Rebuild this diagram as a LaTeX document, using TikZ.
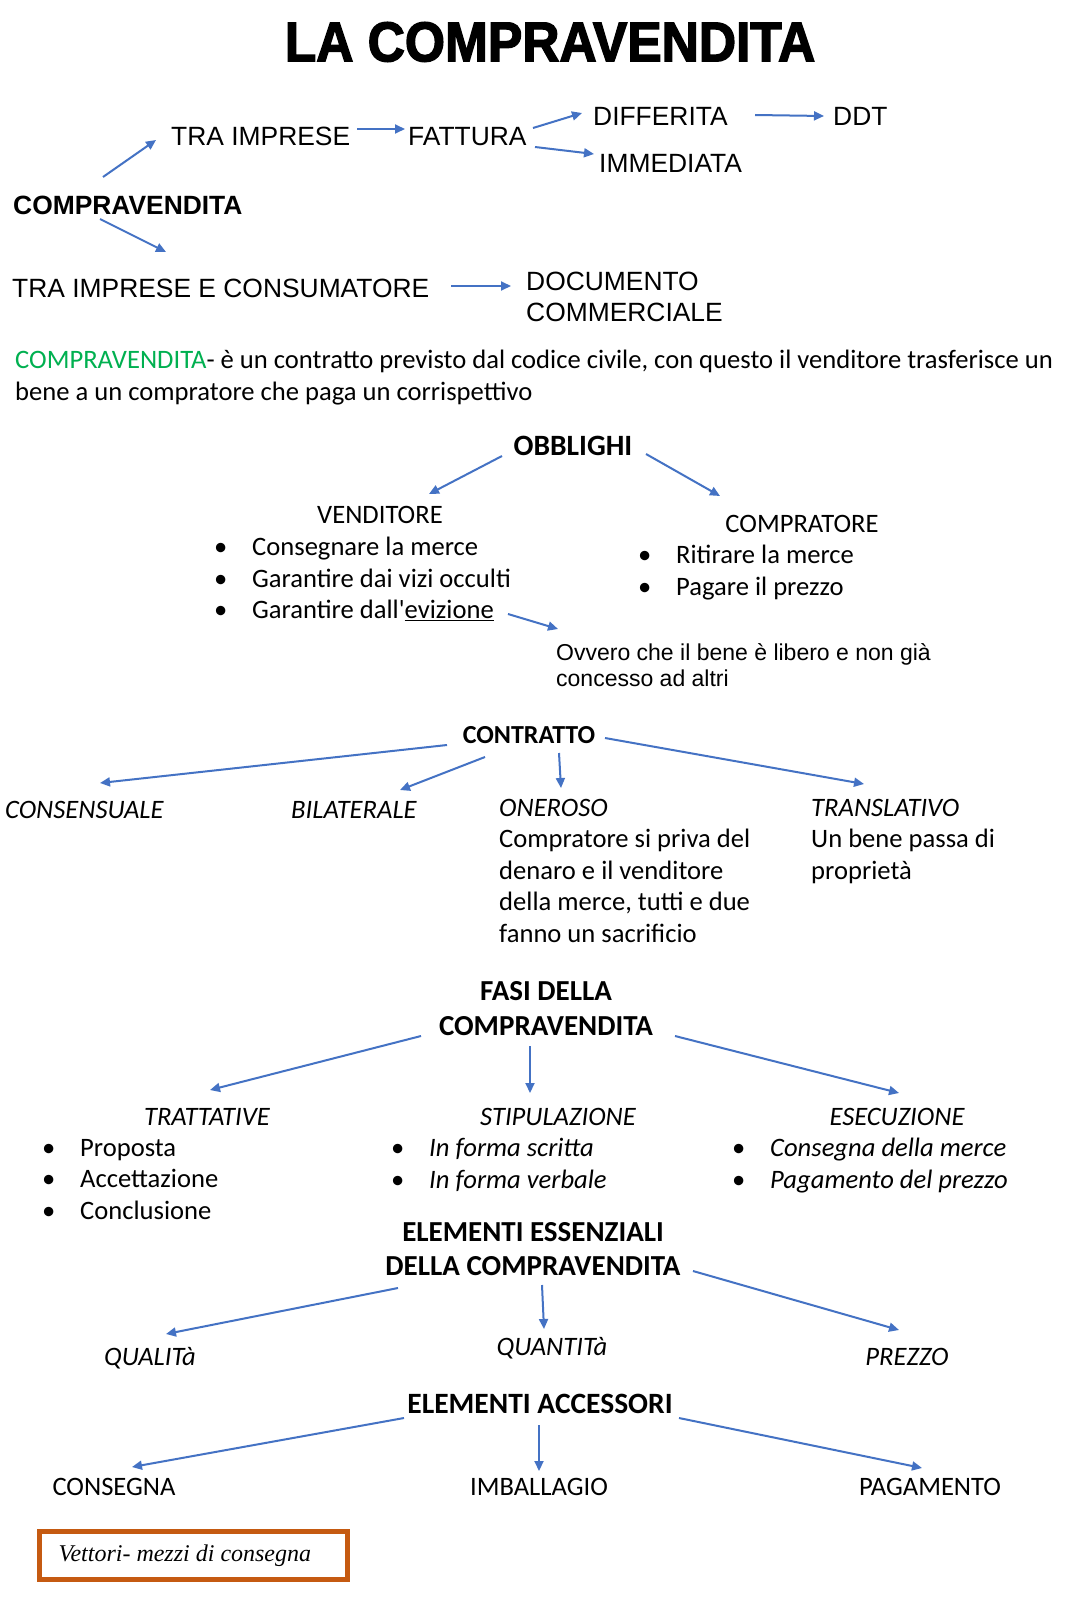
\documentclass[tikz,border=0pt]{standalone}
\usepackage{fontspec}
\setmainfont{Carlito}
\newfontfamily\arialf{Liberation Sans}
\newfontfamily\titlef[FakeStretch=0.92,FakeBold=2.5]{Liberation Sans Bold}
\newfontfamily\vettf{Liberation Serif}
\usetikzlibrary{arrows.meta,positioning}
\definecolor{arrblue}{HTML}{4472C4}
\definecolor{cvgreen}{HTML}{00B050}
\definecolor{boxorange}{HTML}{C55A11}
\newcommand{\itm}[1]{\makebox[38pt][l]{\textbullet}#1}

\begin{document}
\begin{tikzpicture}[x=1pt, y=-1pt,
                    every node/.style={inner sep=0pt},
                    arr/.style={arrblue, line width=2pt, -{Triangle[length=10pt,width=9pt]}},
                    lbl/.style={font=\arialf\fontsize{26.4}{31}\selectfont},
                    txt/.style={font=\fontsize{26.6}{31.5}\selectfont, align=left},
                    hdr/.style={font=\bfseries\fontsize{29.5}{34.5}\selectfont, align=center},
                    itl/.style={font=\itshape\fontsize{26.6}{31.5}\selectfont}]
    %\draw[help lines] (0,0) grid[step=100] (1080,1600);
   \fill[white] (0,0) rectangle (1080,1600);
   \useasboundingbox (0,0) rectangle (1080,1600);

   \node (title) [font=\titlef\fontsize{56}{60}\selectfont] at (550,42) {LA COMPRAVENDITA};

   % tipi di compravendita
   \node (cv) [lbl, anchor=west, font=\arialf\bfseries\fontsize{26.4}{31}\selectfont] at (13,205.5) {COMPRAVENDITA};
   \node (ti) [lbl, anchor=west] at (171,136.5) {TRA IMPRESE};
   \node (fatt) [lbl, anchor=west] at (408,137) {FATTURA};
   \node (diff) [lbl, anchor=west] at (593,116) {DIFFERITA};
   \node (ddt) [lbl, anchor=west] at (833,116) {DDT};
   \node (imm) [lbl, anchor=west] at (599,163) {IMMEDIATA};
   \node (tiec) [lbl, anchor=west] at (12,288) {TRA IMPRESE E CONSUMATORE};
   \node (doc) [lbl, align=left, anchor=north west] at (526,271.5) {DOCUMENTO\\COMMERCIALE};

   \node (def) [txt, anchor=north west] at (15,350) {\textcolor{cvgreen}{COMPRAVENDITA}- è un contratto previsto dal codice civile, con questo il venditore trasferisce un\\bene a un compratore che paga un corrispettivo};

   % obblighi
   \node (obb) [hdr] at (573,446) {OBBLIGHI};
   \node (vend) [txt] at (380,515) {VENDITORE};
   \node (vendl) [txt, anchor=north west] at (214,537) {\itm{Consegnare la merce}\\\itm{Garantire dai vizi occulti}\\\itm{Garantire dall\textquotesingle\underline{evizione}}};
   \node (comp) [txt] at (802,523.5) {COMPRATORE};
   \node (compl) [txt, anchor=north west] at (638,545) {\itm{Ritirare la merce}\\\itm{Pagare il prezzo}};
   \node (ovv) [font=\arialf\fontsize{23}{26}\selectfont, align=left, anchor=north west] at (556,643) {Ovvero che il bene è libero e non già\\concesso ad altri};

   % contratto
   \node (contr) [hdr, font=\bfseries\fontsize{26}{31}\selectfont] at (529,735) {CONTRATTO};
   \node (cons) [itl, anchor=west] at (5,810) {CONSENSUALE};
   \node (bil) [itl, anchor=west] at (291,810) {BILATERALE};
   \node (oner) [txt, anchor=north west] at (499,799) {\textit{ONEROSO}\\Compratore si priva del\\denaro e il venditore\\della merce, tutti e due\\fanno un sacrificio};
   \node (transl) [txt, anchor=north west] at (811,799) {\textit{TRANSLATIVO}\\Un bene passa di\\proprietà};

   % fasi
   \node (fasi) [hdr, font=\bfseries\fontsize{29}{35}\selectfont] at (546,1009) {FASI DELLA\\COMPRAVENDITA};
   \node (tratt) [itl] at (207,1117) {TRATTATIVE};
   \node (trattl) [txt, anchor=north west] at (42,1139) {\itm{Proposta}\\\itm{Accettazione}\\\itm{Conclusione}};
   \node (stip) [itl] at (558,1117) {STIPULAZIONE};
   \node (stipl) [txt, anchor=north west] at (391,1138) {\itm{\textit{In forma scritta}}\\\itm{\textit{In forma verbale}}};
   \node (esec) [itl] at (897,1117) {ESECUZIONE};
   \node (esecl) [txt, anchor=north west] at (732,1138) {\itm{\textit{Consegna della merce}}\\\itm{\textit{Pagamento del prezzo}}};

   % elementi
   \node (ess) [hdr, font=\bfseries\fontsize{29}{34}\selectfont] at (533,1249.5) {ELEMENTI ESSENZIALI\\DELLA COMPRAVENDITA};
   \node (qual) [itl] at (150,1358) {QUALITà};
   \node (quant) [itl] at (552,1348) {QUANTITà};
   \node (prez) [itl] at (907,1357) {PREZZO};

   \node (acc) [hdr] at (540,1404) {ELEMENTI ACCESSORI};
   \node (cons2) [txt] at (114,1487) {CONSEGNA};
   \node (imb) [txt] at (539,1487) {IMBALLAGIO};
   \node (pag) [txt] at (930,1487) {PAGAMENTO};

   \node (vett) [draw=boxorange, line width=5pt, minimum width=308pt, minimum height=48pt,
                 font=\vettf\itshape\fontsize{24}{28}\selectfont] at (193.5,1555.5) {\makebox[270pt][l]{Vettori- mezzi di consegna}};

   % Define connections
   \path[arr]
   ([shift={(90,-28.5)}]cv.west) edge ([shift={(-15,3.5)}]ti.west)
   ([shift={(186,-7.5)}]ti.west) edge ([shift={(-3,-8)}]fatt.west)
   ([shift={(125,-9)}]fatt.west) edge ([shift={(-11,-3)}]diff.west)
   ([shift={(127,10)}]fatt.west) edge ([shift={(-5,-9)}]imm.west)
   ([shift={(162,-1)}]diff.west) edge ([shift={(-9,0)}]ddt.west)
   ([shift={(87,13.5)}]cv.west) edge ([shift={(154,-36)}]tiec.west)
   ([shift={(439,-2)}]tiec.west) edge ([shift={(-15,14.5)}]doc.north west)
   ([shift={(-71,10)}]obb.center) edge ([shift={(49,-21)}]vend.center)
   ([shift={(73,8)}]obb.center) edge ([shift={(-82,-27.5)}]comp.center)
   ([shift={(294,77)}]vendl.north west) edge ([shift={(2,-14)}]ovv.north west)
   ([shift={(-82,10)}]contr.center) edge ([shift={(95,-27)}]cons.west)
   ([shift={(-44,22)}]contr.center) edge ([shift={(109,-20)}]bil.west)
   ([shift={(30,18)}]contr.center) edge ([shift={(62,-11)}]oner.north west)
   ([shift={(76,3)}]contr.center) edge ([shift={(53,-15)}]transl.north west)
   ([shift={(-125,27)}]fasi.center) edge ([shift={(3,-27)}]tratt.center)
   ([shift={(-16,37)}]fasi.center) edge ([shift={(-28,-24)}]stip.center)
   ([shift={(129,27)}]fasi.center) edge ([shift={(2,-24)}]esec.center)
   ([shift={(-135,38.5)}]ess.center) edge ([shift={(16,-24)}]qual.center)
   ([shift={(9,35.5)}]ess.center) edge ([shift={(-8,-19)}]quant.center)
   ([shift={(160,21.5)}]ess.center) edge ([shift={(-8,-27)}]prez.center)
   ([shift={(-136,14)}]acc.center) edge ([shift={(18,-20)}]cons2.center)
   ([shift={(-1,21)}]acc.center) edge ([shift={(0,-16)}]imb.center)
   ([shift={(139,14)}]acc.center) edge ([shift={(-8,-19)}]pag.center);

\end{tikzpicture}
\end{document}
